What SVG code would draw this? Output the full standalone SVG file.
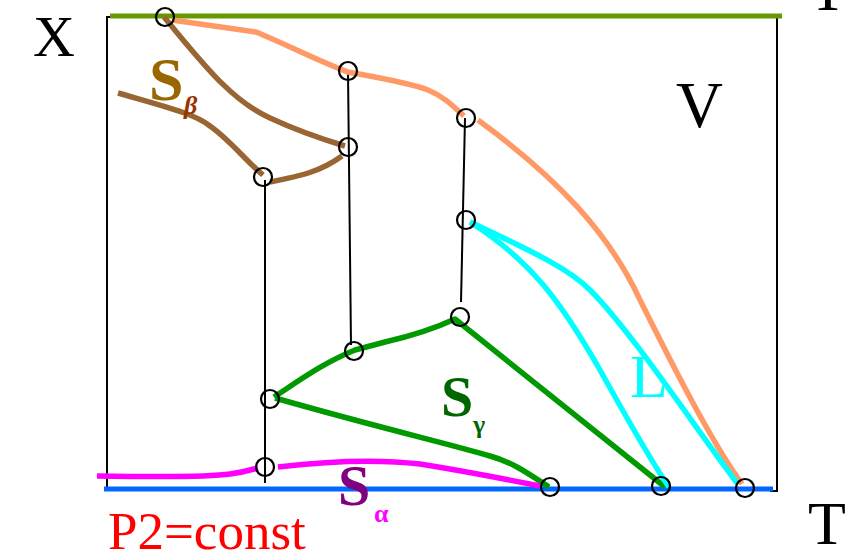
<svg xmlns="http://www.w3.org/2000/svg" width="847" height="553" viewBox="0 0 847 553">
<style>
.c{fill:none;stroke-width:5.5;stroke-linecap:butt;stroke-linejoin:round}
.t{fill:none;stroke:#000;stroke-width:2}
.n{fill:none;stroke:#000;stroke-width:2.2}
.lbl{font-family:"Liberation Serif",serif}
</style>
<rect width="847" height="553" fill="#fff"/>
<g id="frame">
<polyline class="t" points="113,17 107,17 107,490"/>
<polyline class="t" points="777,17 777,491 770,491"/>
<line x1="110" y1="16" x2="782" y2="16" stroke="#669900" stroke-width="5"/>
<line x1="104" y1="489" x2="773" y2="489" stroke="#0066ff" stroke-width="5"/>
</g>
<g id="connectors">
<line class="t" x1="265" y1="180" x2="265" y2="483"/>
<line class="t" x1="348" y1="72" x2="351" y2="345"/>
<line class="t" x1="465" y1="118" x2="461" y2="302"/>
<path class="c" stroke="#ff9966" d="M172,20 L256,32 C290,46 320,62 348,72 C380,78 410,83 428,90 C445,97 455,108 464,116 M478,120 C560,180 610,235 640,300 C670,360 710,440 742,484"/>
<path class="c" stroke="#996633" d="M164,17 C200,60 230,100 270,118 C300,132 325,140 345,146"/>
<path class="c" stroke="#996633" d="M118,93 C170,108 195,114 210,126 C230,140 245,160 263,175"/>
<path class="c" stroke="#996633" d="M270,182 C300,176 320,172 342,156"/>
<path class="c" stroke="#009900" d="M274,397 C300,380 325,362 355,350 L385,342 C420,334 440,326 455,319 L665,487"/>
<path class="c" stroke="#009900" d="M275,398 C380,428 450,444 490,456 C515,463 530,475 549,487"/>
<path class="c" stroke="#ff00ff" d="M97,476 C160,477 210,477 230,474 C245,472 254,469 258,468 M278,467 C320,462 370,458 420,464 C470,472 510,480 540,486"/>
<path class="c" stroke="#00ffff" d="M470,222 C530,260 560,300 600,370 C625,415 650,460 669,487"/>
<path class="c" stroke="#00ffff" d="M470,222 C540,255 570,270 590,290 C630,330 690,420 737,483"/>
</g>
<g id="nodes">
<circle class="n" cx="165" cy="17" r="9"/>
<circle class="n" cx="348" cy="71" r="9"/>
<circle class="n" cx="466" cy="118" r="9"/>
<circle class="n" cx="348" cy="147" r="9"/>
<circle class="n" cx="263" cy="177" r="9"/>
<circle class="n" cx="466" cy="220" r="9"/>
<circle class="n" cx="460" cy="317" r="9"/>
<circle class="n" cx="354" cy="351" r="9"/>
<circle class="n" cx="270" cy="399" r="9"/>
<circle class="n" cx="265" cy="467" r="9"/>
<circle class="n" cx="550" cy="487" r="9"/>
<circle class="n" cx="661" cy="486" r="9"/>
<circle class="n" cx="745" cy="488" r="9"/>
</g>
<g id="labels">
<text class="lbl" x="33" y="56" font-size="58">X</text>
<text class="lbl" x="809" y="10" font-size="62">T</text>
<text class="lbl" x="808" y="544" font-size="62">T</text>
<text class="lbl" x="676" y="127" font-size="65">V</text>
<text class="lbl" x="108" y="549" font-size="53" fill="#ff0000">P2=const</text>
<text class="lbl" x="149" y="100" font-size="62" font-weight="bold" fill="#996600">S</text>
<text class="lbl" x="184" y="114" font-size="26" font-weight="bold" font-style="italic" fill="#993300">β</text>
<text class="lbl" x="441" y="416" font-size="58" font-weight="bold" fill="#006600">S</text>
<text class="lbl" x="473" y="433" font-size="26" font-weight="bold" fill="#006600">γ</text>
<text class="lbl" x="338" y="505" font-size="58" font-weight="bold" fill="#800080">S</text>
<text class="lbl" x="374" y="522" font-size="26" font-weight="bold" fill="#ff00ff">α</text>
<text class="lbl" x="630" y="397" font-size="62" fill="#00ffff">L</text>
</g>
</svg>
